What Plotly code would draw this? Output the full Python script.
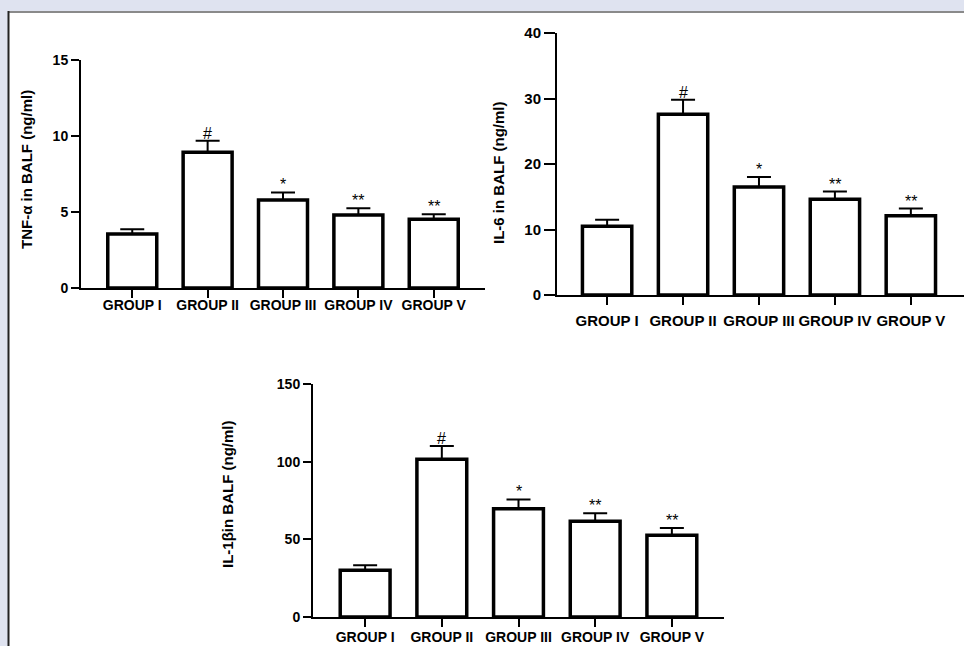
import plotly.graph_objects as go

W, H = 964, 646

groups = ["GROUP I", "GROUP II", "GROUP III", "GROUP IV", "GROUP V"]

tnf_mean = [3.55, 8.93, 5.79, 4.80, 4.52]
tnf_err = [0.32, 0.76, 0.50, 0.44, 0.33]

il6_mean = [10.5, 27.6, 16.5, 14.6, 12.1]
il6_err = [1.0, 2.2, 1.5, 1.2, 1.1]

il1b_mean = [30.1, 101.5, 69.7, 61.6, 52.6]
il1b_err = [3.2, 8.6, 6.0, 5.2, 4.7]

sig_marks = ["", "#", "*", "**", "**"]

y_titles = ["TNF-α in BALF (ng/ml)", "IL-6 in BALF (ng/ml)", "IL-1βin BALF (ng/ml)"]
y_ticks = [[0, 5, 10, 15], [0, 10, 20, 30, 40], [0, 50, 100, 150]]
y_ranges = [[0, 15], [0, 40], [0, 150]]

# pixel layout of each panel:
# (x_left, x_right, y_bottom, y_top, x_range, y_ticklen, x_label_font, y_label_font, x_standoff)
panels = [
    (81, 485, 288, 60, [-0.68, 4.68], 8, 14, 14, -5),
    (557, 964, 295, 33, [-0.66, 4.70], 11, 15, 15, 3),
    (313, 724, 617, 384, [-0.68, 4.68], 8, 14, 14, -2),
]
title_x = [26, 498, 227]
title_y = [170, 173, 495]
title_size = [15, 15, 15]

FONT = "Liberation Sans, Arial, sans-serif"

fig = go.Figure()
data = [(tnf_mean, tnf_err), (il6_mean, il6_err), (il1b_mean, il1b_err)]

for i, ((m, e), p) in enumerate(zip(data, panels)):
    sfx = "" if i == 0 else str(i + 1)
    xl, xr, yb, yt, xrng, tl, xfs, yfs, xso = p
    fig.add_trace(go.Bar(
        x=groups, y=m, width=0.65,
        marker=dict(color="white", line=dict(color="black", width=3.5)),
        error_y=dict(type="data", array=e, arrayminus=[0] * len(e), symmetric=False,
                     color="black", thickness=2, width=12),
        xaxis="x" + sfx, yaxis="y" + sfx, showlegend=False, hoverinfo="skip",
    ))
    fig.layout["xaxis" + sfx] = dict(
        domain=[xl / W, xr / W], anchor="y" + sfx, range=xrng, automargin=False,
        showline=True, linecolor="black", linewidth=2, ticks="outside", ticklen=8,
        tickwidth=2, tickcolor="black", showgrid=False, zeroline=False, tickangle=0,
        tickfont=dict(family=FONT, size=xfs, color="black", weight="bold"),
        ticklabelstandoff=xso, fixedrange=True,
    )
    fig.layout["yaxis" + sfx] = dict(
        domain=[(H - yb) / H, (H - yt) / H], anchor="x" + sfx, range=y_ranges[i],
        automargin=False, tickvals=y_ticks[i], showline=True, linecolor="black",
        linewidth=2, ticks="outside", ticklen=tl, tickwidth=2, tickcolor="black",
        showgrid=False, zeroline=False,
        tickfont=dict(family=FONT, size=yfs, color="black", weight="bold"),
        fixedrange=True,
    )
    for g, mv, ev, s in zip(groups, m, e, sig_marks):
        if s:
            fig.add_annotation(x=g, y=mv + ev, xref="x" + sfx, yref="y" + sfx,
                               text=s, showarrow=False, yanchor="bottom", yshift=-3,
                               font=dict(family=FONT, size=16, color="black"))
    fig.add_annotation(x=title_x[i] / W, y=(H - title_y[i]) / H, xref="paper", yref="paper",
                       text=y_titles[i], textangle=-90, showarrow=False,
                       xanchor="center", yanchor="middle",
                       font=dict(family=FONT, size=title_size[i], color="black",
                                 weight="bold"))

bg = "#dfe3f0"
fig.add_shape(type="rect", xref="paper", yref="paper", x0=0, x1=8 / W, y0=0, y1=1,
              fillcolor=bg, line_width=0, layer="below")
fig.add_shape(type="rect", xref="paper", yref="paper", x0=0, x1=1, y0=(H - 11) / H, y1=1,
              fillcolor=bg, line_width=0, layer="below")
fig.add_shape(type="line", xref="paper", yref="paper", x0=8 / W, x1=1, y0=(H - 12) / H,
              y1=(H - 12) / H, line=dict(color="#8a8a8a", width=2), layer="below")
fig.add_shape(type="line", xref="paper", yref="paper", x0=8.5 / W, x1=8.5 / W, y0=0,
              y1=(H - 11) / H, line=dict(color="#222222", width=2), layer="below")

fig.update_layout(
    width=W, height=H, margin=dict(l=0, r=0, t=0, b=0, autoexpand=False),
    paper_bgcolor="white", plot_bgcolor="rgba(0,0,0,0)",
    bargap=0.35,
)

fig.write_html("out.html", config={"displayModeBar": False})
